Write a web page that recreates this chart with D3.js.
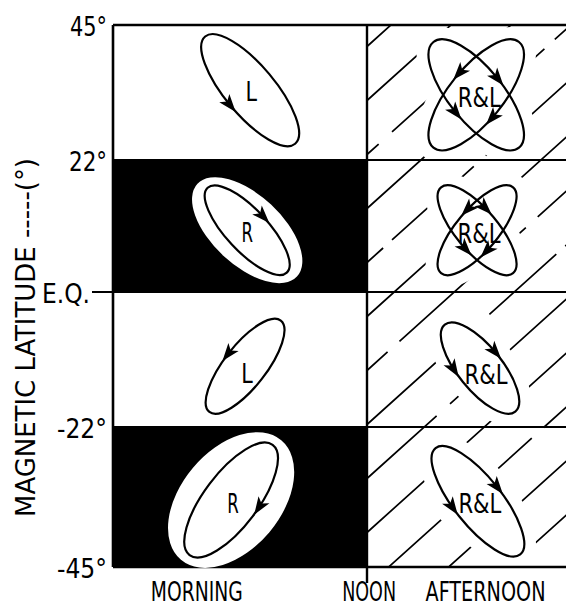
<!DOCTYPE html>
<html lang="en">
<head>
  <meta charset="UTF-8">
  <title>Polarization vs magnetic latitude and local time</title>
  <script src="https://cdn.jsdelivr.net/npm/d3@7"></script>
  <style>
    body { margin: 0; background: #fff; }
    text { font-family: "DejaVu Sans Condensed", "Liberation Sans Narrow", "DejaVu Sans", sans-serif; fill: #000; }
  </style>
</head>
<body>
  <svg width="566" height="608"></svg>
  <script>
    // latitude rows
    var latTicks = [45, 22, 0, -22, -45];
    var latTickLabels = ['45°', '22°', 'E.Q.', '-22°', '-45°'];
    var bands = [[22, 45], [0, 22], [-22, 0], [-45, -22]];
    var morningShade = ['clear', 'dark', 'clear', 'dark'];

    // local time columns
    var timeEdges = [6, 12, 18];
    var timeLabels = ['MORNING', 'NOON', 'AFTERNOON'];
    var timeLabelAt = [7.98, 12.05, 14.8];

    // polarization ellipses: centre (local time, latitude) and sense
    var ovalTime = [9.24, 9.17, 9.12, 8.79, 14.58, 14.6, 14.67, 14.62];
    var ovalLat = [33.9, 10.3, -12.1, -34.0, 33.1, 10.3, -12.4, -34.2];
    var ovalPol = ['L', 'R', 'L', 'R', 'R&L', 'R&L', 'R&L', 'R&L'];

    // drawing geometry for each ellipse (px, degrees of tilt)
    var ovalGeom = [
      {a: 70, b: 25, tilt: [50], lx: 1, ly: 1},
      {a: 58, b: 21, tilt: [47], lx: 0, ly: 2},
      {a: 58, b: 21, tilt: [-52], lx: 2, ly: 7},
      {a: 69, b: 27, tilt: [-53], lx: 2, ly: 3},
      {a: 68, b: 27, tilt: [-51, 51], lx: 3, ly: 2},
      {a: 56, b: 21, tilt: [-50, 50], lx: 2, ly: 3},
      {a: 56, b: 22, tilt: [51], lx: 6, ly: 6},
      {a: 68, b: 24, tilt: [51.5], lx: 2, ly: 2}
    ];
    // white halo around the ellipses sitting in dark cells
    var haloGeom = {1: {a: 68, b: 35, tilt: 43}, 3: {a: 78, b: 50, tilt: -50}};
    // arrowheads: [oval, loop, parameter angle, direction (+1 clockwise)]
    var arrows = [
      [0, 0, 92, -1], [1, 0, 270, 1], [2, 0, 270, -1], [3, 0, 80, 1],
      [4, 0, 276, -1], [4, 1, 270, 1], [4, 1, 90, -1], [4, 0, 96, 1],
      [5, 0, 281, -1], [5, 1, 257, 1], [5, 1, 84, -1], [5, 0, 99, 1],
      [6, 0, 266, 1], [6, 0, 107, -1],
      [7, 0, 270, 1], [7, 0, 100, -1]
    ];

    var svg = d3.select('svg');
    var x = d3.scaleLinear().domain([6, 18]).range([113, 621]);
    var y = d3.scaleLinear().domain([-45, -22, 0, 22, 45]).range([567, 427, 292, 160, 25]);
    var rad = Math.PI / 180;

    function fitText(sel, len) {
      sel.attr('textLength', len).attr('lengthAdjust', 'spacingAndGlyphs');
    }

    // squeeze a centred label to a given width with a horizontal scale
    function squeeze(node, cx, cy, len) {
      var k = len / node.getComputedTextLength();
      d3.select(node)
        .attr('x', 0).attr('y', 0)
        .attr('transform', 'translate(' + cx + ',' + cy + ') scale(' + k + ',1)');
    }

    // morning cells
    svg.append('g').selectAll('rect')
      .data(bands)
      .enter().append('rect')
      .attr('x', x(timeEdges[0]))
      .attr('y', function(d) { return y(d[1]); })
      .attr('width', x(timeEdges[1]) - x(timeEdges[0]))
      .attr('height', function(d) { return y(d[0]) - y(d[1]); })
      .attr('fill', function(d, i) { return morningShade[i] === 'dark' ? '#000' : '#fff'; });

    // afternoon hatching, broken around the ellipses
    var defs = svg.append('defs');
    defs.append('clipPath').attr('id', 'pm')
      .append('rect')
      .attr('x', x(12)).attr('y', y(45))
      .attr('width', x(18) - x(12)).attr('height', y(-45) - y(45));
    var mask = defs.append('mask').attr('id', 'gap');
    mask.append('rect').attr('x', 0).attr('y', 0).attr('width', 566).attr('height', 608).attr('fill', '#fff');
    ovalTime.forEach(function(t, i) {
      if (t < 12) return;
      var g = ovalGeom[i];
      g.tilt.forEach(function(th) {
        mask.append('ellipse')
          .attr('cx', x(t)).attr('cy', y(ovalLat[i]))
          .attr('rx', g.a + 13).attr('ry', g.b + 13)
          .attr('transform', 'rotate(' + th + ',' + x(t) + ',' + y(ovalLat[i]) + ')')
          .attr('fill', '#000');
      });
    });

    var slope = 0.9;
    var dashes = ['170 16', '240 14 90 12', '130 18 200 12', '300 14', '150 12 110 16', '210 18'];
    svg.append('g')
      .attr('clip-path', 'url(#pm)')
      .append('g')
      .attr('mask', 'url(#gap)')
      .selectAll('line')
      .data(d3.range(-10, 10))
      .enter().append('line')
      .attr('x1', 340)
      .attr('y1', function(n) { return 808.8 + 54 * n - slope * 340; })
      .attr('x2', 640)
      .attr('y2', function(n) { return 808.8 + 54 * n - slope * 640; })
      .attr('stroke', '#000')
      .attr('stroke-width', 1.7)
      .attr('stroke-dasharray', function(n) { return dashes[(n + 20) % dashes.length]; })
      .attr('stroke-dashoffset', function(n) { return ((n * 67) % 120 + 120) % 120; });

    // frame
    var frame = svg.append('g').attr('stroke', '#000').attr('fill', 'none');
    frame.selectAll('line.h')
      .data(latTicks)
      .enter().append('line')
      .attr('class', 'h')
      .attr('x1', function(d) { return d === 0 ? x(6) - 21 : x(6); })
      .attr('x2', x(18))
      .attr('y1', function(d) { return y(d); })
      .attr('y2', function(d) { return y(d); })
      .attr('stroke-width', function(d) { return Math.abs(d) === 45 ? 2.6 : 2.2; });
    frame.append('line')
      .attr('x1', x(6)).attr('x2', x(6))
      .attr('y1', y(45)).attr('y2', y(-45))
      .attr('stroke-width', 2.6);
    frame.append('line')
      .attr('x1', x(12)).attr('x2', x(12))
      .attr('y1', y(45)).attr('y2', y(-45) + 16)
      .attr('stroke-width', 2.4);

    // halos in dark cells
    Object.keys(haloGeom).forEach(function(k) {
      var h = haloGeom[k];
      var cx = x(ovalTime[k]), cy = y(ovalLat[k]);
      svg.append('ellipse')
        .attr('cx', cx).attr('cy', cy)
        .attr('rx', h.a).attr('ry', h.b)
        .attr('transform', 'rotate(' + h.tilt + ',' + cx + ',' + cy + ')')
        .attr('fill', '#fff');
    });

    // ellipses
    var ovals = svg.append('g').attr('fill', 'none').attr('stroke', '#000').attr('stroke-width', 2.2);
    ovalTime.forEach(function(t, i) {
      var g = ovalGeom[i];
      var cx = x(t), cy = y(ovalLat[i]);
      g.tilt.forEach(function(th) {
        ovals.append('ellipse')
          .attr('cx', cx).attr('cy', cy)
          .attr('rx', g.a).attr('ry', g.b)
          .attr('transform', 'rotate(' + th + ',' + cx + ',' + cy + ')');
      });
    });

    // arrowheads along the ellipses
    svg.append('g').selectAll('path')
      .data(arrows)
      .enter().append('path')
      .attr('fill', '#000')
      .attr('d', function(d) {
        var g = ovalGeom[d[0]];
        var th = g.tilt[d[1]] * rad, t = d[2] * rad;
        var cx = x(ovalTime[d[0]]), cy = y(ovalLat[d[0]]);
        var u = g.a * Math.cos(t), v = g.b * Math.sin(t);
        var px = cx + u * Math.cos(th) - v * Math.sin(th);
        var py = cy + u * Math.sin(th) + v * Math.cos(th);
        var du = -g.a * Math.sin(t) * d[3], dv = g.b * Math.cos(t) * d[3];
        var tx = du * Math.cos(th) - dv * Math.sin(th);
        var ty = du * Math.sin(th) + dv * Math.cos(th);
        var n = Math.sqrt(tx * tx + ty * ty);
        tx /= n; ty /= n;
        var len = 18, w = 6.5;
        var p = d3.path();
        p.moveTo(px + tx * len * 0.55, py + ty * len * 0.55);
        p.lineTo(px - tx * len * 0.45 - ty * w, py - ty * len * 0.45 + tx * w);
        p.lineTo(px - tx * len * 0.2, py - ty * len * 0.2);
        p.lineTo(px - tx * len * 0.45 + ty * w, py - ty * len * 0.45 - tx * w);
        p.closePath();
        return p.toString();
      });

    // ellipse labels
    svg.append('g').selectAll('text')
      .data(ovalPol)
      .enter().append('text')
      .attr('x', function(d, i) { return x(ovalTime[i]) + ovalGeom[i].lx; })
      .attr('y', function(d, i) { return y(ovalLat[i]) + 10 + ovalGeom[i].ly; })
      .attr('text-anchor', 'middle')
      .attr('font-size', 27)
      .text(function(d) { return d; })
      .each(function(d) { fitText(d3.select(this), d === 'R&L' ? 43 : 11.5); });

    // latitude labels
    var latLen = [37, 38, 48, 50, 50];
    svg.append('g').selectAll('text')
      .data(latTicks)
      .enter().append('text')
      .attr('x', function(d) { return d === 0 ? x(6) - 23 : x(6) - 6; })
      .attr('y', function(d) { return y(d) + 11; })
      .attr('text-anchor', 'end')
      .attr('font-size', 27)
      .text(function(d, i) { return latTickLabels[i]; })
      .each(function(d, i) { fitText(d3.select(this), latLen[i]); });

    // local time labels
    var timeLen = [92, 54, 120];
    svg.append('g').selectAll('text')
      .data(timeLabels)
      .enter().append('text')
      .attr('text-anchor', 'middle')
      .attr('font-size', 27)
      .text(function(d) { return d; })
      .each(function(d, i) { squeeze(this, x(timeLabelAt[i]), 601, timeLen[i]); });

    // axis title
    svg.append('text')
      .attr('transform', 'translate(35,337.5) rotate(-90)')
      .attr('text-anchor', 'middle')
      .attr('font-size', 27)
      .text('MAGNETIC LATITUDE -----(°)')
      .call(fitText, 359);
  </script>
</body>
</html>
